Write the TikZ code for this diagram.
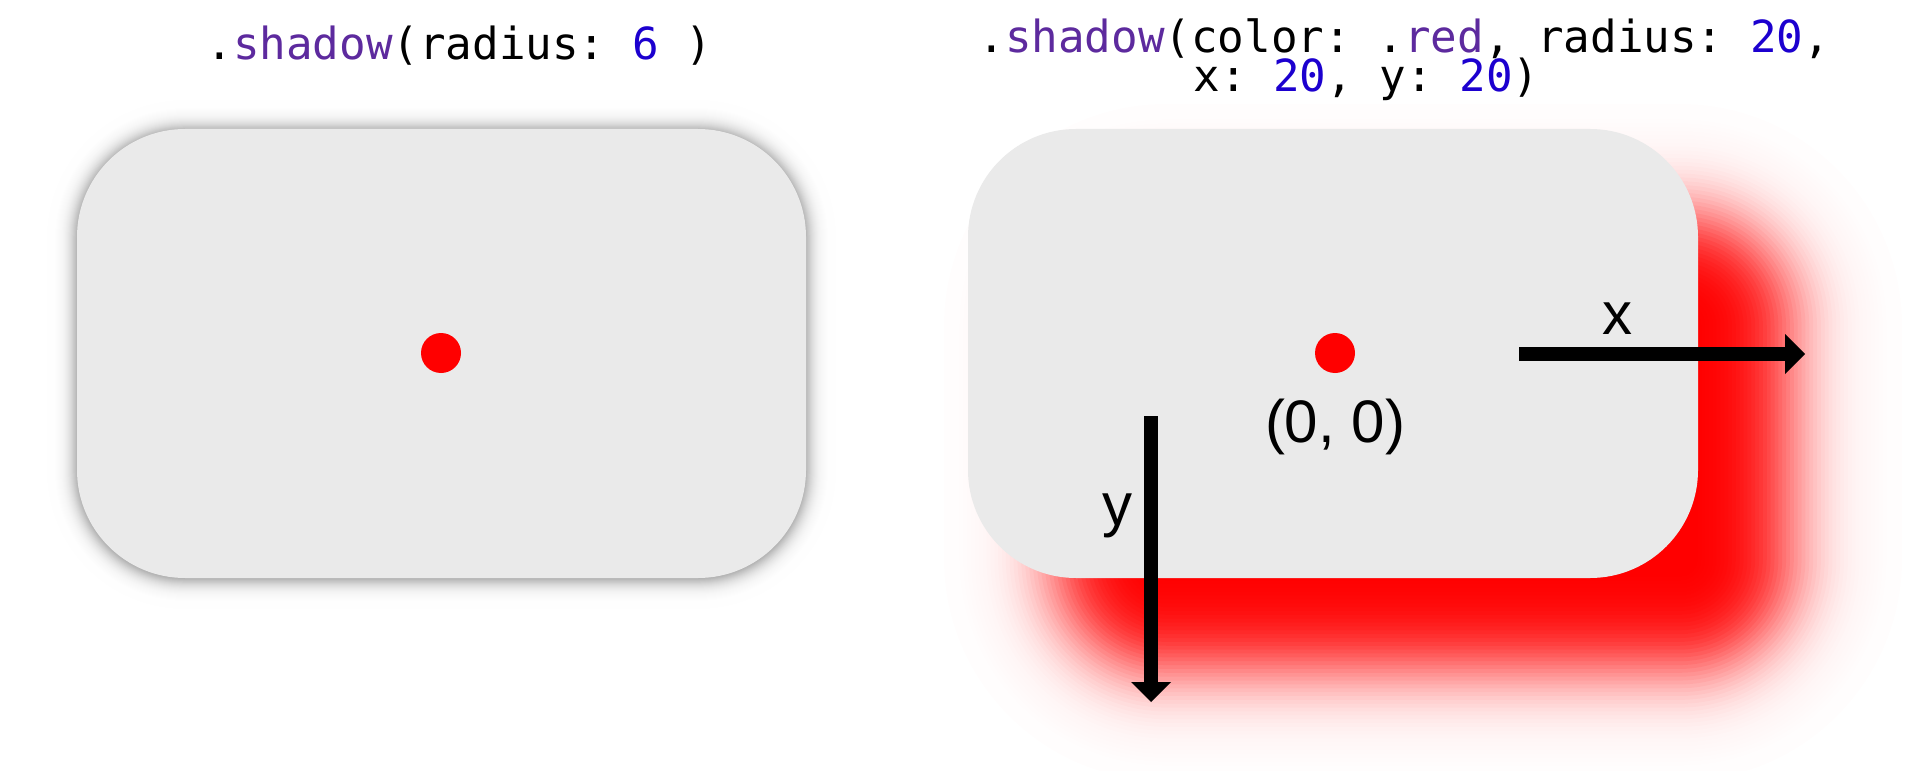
\documentclass[tikz,border=0pt]{standalone}
\usepackage{fontspec}
\usetikzlibrary{arrows.meta}
\newfontfamily\codefont{DejaVu Sans Mono}
\newfontfamily\labelfont{Liberation Sans}
\definecolor{rectgray}{RGB}{234,234,234}
\definecolor{kwpurple}{RGB}{93,42,158}
\definecolor{numblue}{RGB}{28,0,207}
\definecolor{shadowred}{RGB}{255,0,0}
% soft (gaussian-like) rounded rectangle built from stacked translucent layers
% #1 x1, #2 y1, #3 x2, #4 y2 (px), #5 corner radius (px), #6 sigma (px), #7 colour, #8 peak opacity
\newcommand\softrect[8]{%
  \foreach \k in {1,...,60}{%
    \pgfmathsetmacro\sk{#6*(3-6*(\k-1)/59)}%
    \pgfmathsetmacro\sprev{#6*(3-6*(\k-2)/59)}%
    \pgfmathsetmacro\Tk{#8/(1+exp(1.702*\sk/#6))}%
    \pgfmathsetmacro\Tp{(\k==1) ? 0 : #8/(1+exp(1.702*\sprev/#6))}%
    \pgfmathsetmacro\ak{1-(1-\Tk)/(1-\Tp)}%
    \pgfmathsetmacro\rk{max(#5+\sk,0.5)*0.5}%
    \fill[#7, fill opacity=\ak, rounded corners=\rk pt]
      ({#1-(\sk)},{#2-(\sk)}) rectangle ({#3+(\sk)},{#4+(\sk)});
  }%
}
\begin{document}
\begin{tikzpicture}[x=0.5pt,y=-0.5pt,
  card/.style={fill=rectgray, rounded corners=54pt},
  origindot/.style={circle, fill=shadowred, minimum size=20pt, inner sep=0pt},
  codetext/.style={inner sep=0pt, anchor=base west, font=\codefont\fontsize{22.1pt}{26pt}\selectfont\frenchspacing},
  axislabel/.style={inner sep=0pt, anchor=base, font=\labelfont\fontsize{30pt}{36pt}\selectfont},
  axisarrow/.style={line width=7pt, -{Triangle[length=10pt,width=20pt,line width=0pt]}}]
\useasboundingbox (0,0) rectangle (1930,770);
\fill[white] (0,0) rectangle (1930,770);

% left card: soft grey shadow
\softrect{77}{130}{806}{579}{108}{10}{black}{0.55}
\fill[card] (77,129) rectangle (806,578);
\node[origindot] (dotL) at (441,353) {};

% right card: red offset shadow
\softrect{1058}{218}{1788}{667}{108}{38}{shadowred}{1}
\fill[card] (968,129) rectangle (1698,578);
\node[origindot] (dotR) at (1335,353) {};

% titles
\node[codetext] (titleL) at (206,60) {.\textcolor{kwpurple}{shadow}(radius: \textcolor{numblue}{6} )};
\node[codetext] (titleR1) at (978,53) {.\textcolor{kwpurple}{shadow}(color: .\textcolor{kwpurple}{red}, radius: \textcolor{numblue}{20},};
\node[codetext] (titleR2) at (1193,92) {x: \textcolor{numblue}{20}, y: \textcolor{numblue}{20})};

% axes
\coordinate (xs) at (1519,354);
\coordinate (xe) at (1805,354);
\coordinate (ys) at (1151,416);
\coordinate (ye) at (1151,702);
\draw[axisarrow] (xs) -- (xe);
\draw[axisarrow] (ys) -- (ye);
\node[axislabel] (xlab) at (1617,334) {x};
\node[axislabel] (ylab) at (1117,525) {y};
\node[axislabel] (orig) at (1335,442) {(0, 0)};
\end{tikzpicture}
\end{document}
